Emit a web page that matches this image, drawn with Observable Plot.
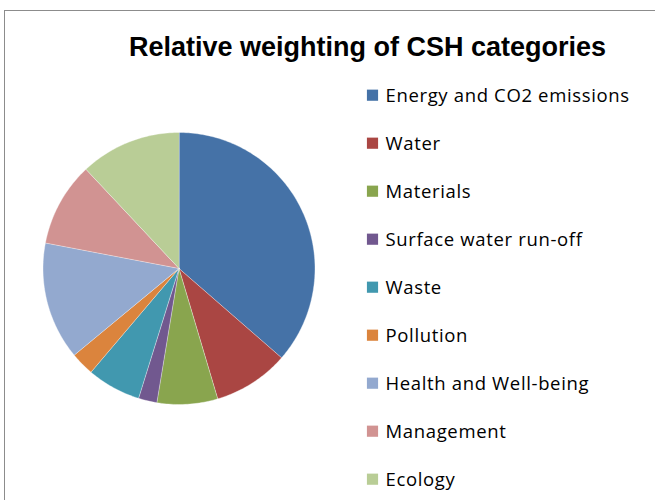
<!DOCTYPE html>
<html>
<head>
<meta charset="utf-8">
<script src="https://cdn.jsdelivr.net/npm/d3@7"></script>
<script src="https://cdn.jsdelivr.net/npm/@observablehq/plot@0.6"></script>
<style>
  html, body { margin: 0; padding: 0; background: #fff; }
  body { width: 655px; height: 500px; position: relative; overflow: hidden; }
  #frame { position: absolute; left: 4px; top: 10px; width: 700px; height: 600px;
           border-left: 1.5px solid #8c8c8c; border-top: 1.5px solid #8c8c8c; }
  #chart { position: absolute; left: 0; top: 0; }
</style>
</head>
<body>
<div id="frame"></div>
<div id="chart"></div>
<script>
const titleText = "Relative weighting of CSH categories";
const categories = [
  "Energy and CO2 emissions",
  "Water",
  "Materials",
  "Surface water run-off",
  "Waste",
  "Pollution",
  "Health and Well-being",
  "Management",
  "Ecology"
];
const weights = [36.4, 9, 7.2, 2.2, 6.4, 2.8, 14, 10, 12];
const colors = ["#4572A7", "#AA4643", "#89A54E", "#71588F", "#4198AF",
                "#DB843D", "#93A9CF", "#D19392", "#B9CD96"];

// layout
const W = 655, H = 500;
const cx = 178.5, cy = 268, R = 136;
const legendX = 372, legendY0 = 94.7, legendStep = 48;

const arcs = d3.pie().sort(null).value(d => d.w)(categories.map((c, i) => ({cat: c, w: weights[i]})));
const pts = [];
for (const a of arcs) {
  const cat = a.data.cat;
  pts.push({cat, x: cx, y: cy});
  const n = Math.max(2, Math.ceil((a.endAngle - a.startAngle) / (Math.PI / 180)));
  for (let k = 0; k <= n; k++) {
    const t = a.startAngle + (a.endAngle - a.startAngle) * k / n;
    pts.push({cat, x: cx + R * Math.sin(t), y: cy - R * Math.cos(t)});
  }
}

const chart = Plot.plot({
  width: W, height: H, margin: 0,
  style: {background: "transparent", overflow: "visible"},
  x: {domain: [0, W], range: [0, W], axis: null},
  y: {domain: [0, H], range: [0, H], axis: null},
  color: {domain: categories, range: colors},
  marks: [
    Plot.line(pts, {x: "x", y: "y", z: "cat", fill: "cat", stroke: "#ffffff",
      strokeOpacity: 0.6, strokeWidth: 0.6, curve: "linear-closed"}),
    Plot.text([titleText], {frameAnchor: "top", dx: 39.5, dy: 36, lineAnchor: "top",
      fontFamily: "Liberation Sans, Arial, sans-serif", fontWeight: "bold", fontSize: 27, fill: "#000"}),
    Plot.dot(categories, {x: () => legendX, y: (d, i) => legendY0 + i * legendStep,
      symbol: "square", r: 6.3, fill: d => d, stroke: null}),
    Plot.text(categories, {x: () => legendX + 13, y: (d, i) => legendY0 + i * legendStep,
      text: d => d, textAnchor: "start", lineAnchor: "middle", dy: 1,
      fontFamily: "Open Sans, sans-serif", fontSize: 18.5, fill: "#000",
      style: "letter-spacing: 0.65px"})
  ]
});
chart.querySelectorAll("text").forEach(t => {
  if (categories.includes(t.textContent)) t.style.letterSpacing = "0.65px";
});
document.getElementById("chart").appendChild(chart);
</script>
</body>
</html>
